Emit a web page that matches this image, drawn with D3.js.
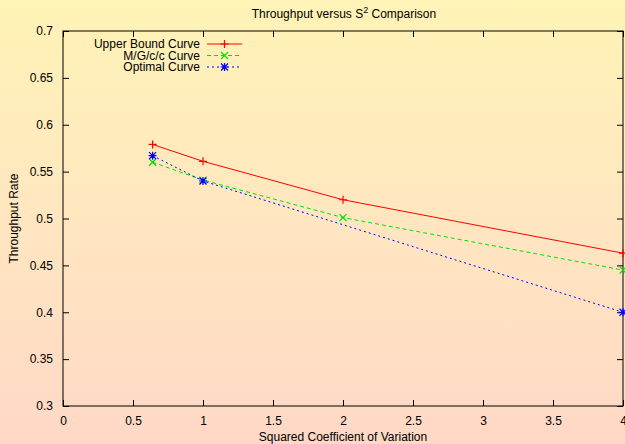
<!DOCTYPE html>
<html>
<head>
<meta charset="utf-8">
<script src="https://cdn.jsdelivr.net/npm/d3@7"></script>
<style>
  body { margin: 0; }
  svg { display: block; font-family: "Liberation Sans", Arial, sans-serif; }
</style>
</head>
<body>
<div id="chart"></div>
<script>
// Datos
const upperX = [0.64, 1, 2, 4];
const upperY = [0.579, 0.561, 0.520, 0.463];
const mgccX = [0.64, 1, 2, 4];
const mgccY = [0.560, 0.541, 0.501, 0.445];
const optimalX = [0.64, 1, 4];
const optimalY = [0.567, 0.540, 0.400];
const xTicks = [0, 0.5, 1, 1.5, 2, 2.5, 3, 3.5, 4];
const yTicks = [0.3, 0.35, 0.4, 0.45, 0.5, 0.55, 0.6, 0.65, 0.7];

const width = 625, height = 444;
const margin = { top: 31, right: 2, bottom: 38, left: 63 };
const w = width - margin.left - margin.right;
const h = height - margin.top - margin.bottom;

const svg = d3.select("#chart").append("svg")
    .attr("width", width)
    .attr("height", height);

// Fondo degradado
const grad = svg.append("defs").append("linearGradient")
    .attr("id", "bg").attr("x1", 0).attr("y1", 0).attr("x2", 0).attr("y2", 1);
grad.append("stop").attr("offset", "0%").attr("stop-color", "#fff3b6");
grad.append("stop").attr("offset", "50%").attr("stop-color", "#ffe6c0");
grad.append("stop").attr("offset", "100%").attr("stop-color", "#ffd8c6");
svg.append("rect").attr("width", width).attr("height", height).attr("fill", "url(#bg)");

const g = svg.append("g").attr("transform", `translate(${margin.left},${margin.top})`);

const x = d3.scaleLinear().domain([0, 4]).range([0, w]);
const y = d3.scaleLinear().domain([0.3, 0.7]).range([h, 0]);

// Ejes con marcas hacia dentro (estilo gnuplot)
const fmt = d => String(+d.toFixed(2));
const tick = 6;
g.append("g").attr("transform", `translate(0,${h})`)
    .call(d3.axisBottom(x).tickValues(xTicks).tickFormat(fmt).tickSizeInner(-tick).tickSizeOuter(0).tickPadding(tick + 4))
    .call(a => a.select(".domain").remove());
g.append("g")
    .call(d3.axisTop(x).tickValues(xTicks).tickFormat("").tickSizeInner(-tick).tickSizeOuter(0))
    .call(a => a.select(".domain").remove());
g.append("g")
    .call(d3.axisLeft(y).tickValues(yTicks).tickFormat(fmt).tickSizeInner(-tick).tickSizeOuter(0).tickPadding(tick + 4))
    .call(a => a.select(".domain").remove());
g.append("g").attr("transform", `translate(${w},0)`)
    .call(d3.axisRight(y).tickValues(yTicks).tickFormat("").tickSizeInner(-tick).tickSizeOuter(0))
    .call(a => a.select(".domain").remove());
g.selectAll(".tick text").attr("font-size", 12).attr("fill", "#000").attr("font-family", "Liberation Sans, Arial, sans-serif");
g.selectAll(".tick line").attr("stroke", "#000");

g.append("rect").attr("width", w).attr("height", h)
    .attr("fill", "none").attr("stroke", "#000").attr("stroke-width", 1);

// Series
const series = [
    { name: "Upper Bound Curve", xs: upperX, ys: upperY, color: "#ff0000", dash: null, mark: "plus" },
    { name: "M/G/c/c Curve", xs: mgccX, ys: mgccY, color: "#00e000", dash: "4,3", mark: "cross" },
    { name: "Optimal Curve", xs: optimalX, ys: optimalY, color: "#0000ff", dash: "2,3", mark: "star" }
];

function marker(sel, type, cx, cy, color) {
    const s = 4;
    const p = [];
    if (type === "plus" || type === "star") p.push(`M${cx - s},${cy}H${cx + s}M${cx},${cy - s}V${cy + s}`);
    if (type === "cross" || type === "star") p.push(`M${cx - s + 0.5},${cy - s + 0.5}L${cx + s - 0.5},${cy + s - 0.5}M${cx - s + 0.5},${cy + s - 0.5}L${cx + s - 0.5},${cy - s + 0.5}`);
    sel.append("path").attr("d", p.join("")).attr("stroke", color).attr("stroke-width", 1.2).attr("fill", "none");
}

const line = d3.line().x(d => x(d[0])).y(d => y(d[1]));
series.forEach(s => {
    const pts = s.xs.map((v, i) => [v, s.ys[i]]);
    g.append("path").datum(pts).attr("d", line)
        .attr("fill", "none").attr("stroke", s.color).attr("stroke-width", 1)
        .attr("stroke-dasharray", s.dash);
    pts.forEach(p => marker(g, s.mark, x(p[0]), y(p[1]), s.color));
});

// Leyenda
const leg = svg.append("g");
series.forEach((s, i) => {
    const ly = 44 + i * 11.5;
    leg.append("text").attr("x", 200).attr("y", ly + 4).attr("text-anchor", "end")
        .attr("font-size", 12).text(s.name);
    leg.append("line").attr("x1", 207).attr("x2", 242).attr("y1", ly).attr("y2", ly)
        .attr("stroke", s.color).attr("stroke-dasharray", s.dash);
    marker(leg, s.mark, 224.5, ly, s.color);
});

// Títulos
const title = svg.append("text").attr("x", 344).attr("y", 18).attr("text-anchor", "middle").attr("font-size", 12);
title.append("tspan").text("Throughput versus S");
title.append("tspan").attr("font-size", 9).attr("dy", -5).text("2");
title.append("tspan").attr("dy", 5).text(" Comparison");

svg.append("text").attr("x", margin.left + w / 2).attr("y", 441).attr("text-anchor", "middle")
    .attr("font-size", 12).text("Squared Coefficient of Variation");

svg.append("text").attr("transform", `translate(18,${margin.top + h / 2}) rotate(-90)`)
    .attr("text-anchor", "middle").attr("font-size", 12).text("Throughput Rate");
</script>
</body>
</html>
